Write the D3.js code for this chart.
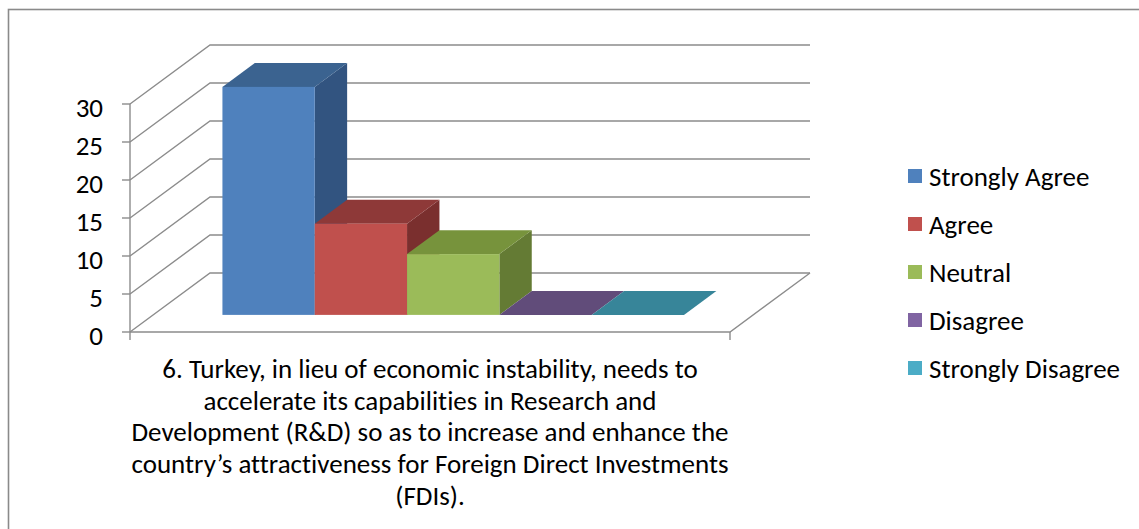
<!DOCTYPE html>
<html>
<head>
<meta charset="utf-8">
<script src="https://cdn.jsdelivr.net/npm/d3@7"></script>
<style>
  html, body { margin: 0; padding: 0; background: #fff; }
  svg { display: block; }
  text { font-family: Carlito, Calibri, Lato, "Noto Sans", sans-serif; fill: #000; font-variant-ligatures: none; }
</style>
</head>
<body>
<svg id="chart" width="1139" height="529"></svg>
<script>
// Survey responses for statement 6
const series = ["Strongly Agree", "Agree", "Neutral", "Disagree", "Strongly Disagree"];
const values = [30, 12, 8, 0, 0];
const frontColors = ["#4F81BD", "#C0504D", "#9BBB59", "#8064A2", "#4BACC6"];
const topColors   = ["#3B6390", "#8E3938", "#77933C", "#614C7A", "#378599"];
const sideColors  = ["#325480", "#7A2F2E", "#647B34", "#523F68", "#2E7283"];
const yTicks = [0, 5, 10, 15, 20, 25, 30];
const categoryLines = [
  "6. Turkey, in lieu of economic instability, needs to",
  "accelerate its capabilities in Research and",
  "Development (R&D) so as to increase and enhance the",
  "country\u2019s attractiveness for Foreign Direct Investments",
  "(FDIs)."
];

const svg = d3.select("#chart");
const fontSize = "27px";

// Plot box (front plane) and oblique depth vector
const plotLeft = 130, plotRight = 730, plotBottom = 332, plotTop = 104;
const depth = { dx: 80, dy: -59 };
const barDepth = [0.29, 0.695];

const y = d3.scaleLinear().domain([0, 30]).range([plotBottom, plotTop]);
const x = d3.scaleBand().domain(series).range([plotLeft, plotRight]).paddingInner(0).paddingOuter(0.75);

const proj = (px, py, d) => [px + d * depth.dx, py + d * depth.dy];
const pts = arr => arr.map(p => p.join(",")).join(" ");

// Chart frame
svg.append("rect")
  .attr("x", 8.5).attr("y", 9.5).attr("width", 1200).attr("height", 600)
  .attr("fill", "none").attr("stroke", "#8a8a8a").attr("stroke-width", 1.6);

const grid = svg.append("g").attr("fill", "none").attr("stroke", "#8c8c8c").attr("stroke-width", 1.4);

// Side wall + back wall gridlines
yTicks.forEach(t => {
  const f = [plotLeft, y(t)];
  const b = proj(plotLeft, y(t), 1);
  const br = proj(plotRight, y(t), 1);
  grid.append("polyline").attr("points", pts([f, b, br]));
});

// Floor front and right edges
grid.append("polyline").attr("points", pts([[plotLeft, y(0)], [plotRight, y(0)], proj(plotRight, y(0), 1)]));

// Vertical axis and ticks
const axisG = svg.append("g").attr("stroke", "#8c8c8c").attr("stroke-width", 1.4);
axisG.append("line").attr("x1", plotLeft).attr("x2", plotLeft).attr("y1", y(30)).attr("y2", y(0) + 8);
axisG.append("line").attr("x1", plotRight).attr("x2", plotRight).attr("y1", y(0)).attr("y2", y(0) + 8);
yTicks.forEach(t => {
  axisG.append("line").attr("x1", plotLeft - 8).attr("x2", plotLeft).attr("y1", y(t)).attr("y2", y(t));
});

svg.append("g").selectAll("text").data(yTicks).join("text")
  .attr("x", 103).attr("y", d => y(d) + 3)
  .attr("text-anchor", "end").attr("dominant-baseline", "central")
  .style("font-size", fontSize)
  .text(d => d);

// 3D bars, painted left to right
const bars = svg.append("g");
series.forEach((s, i) => {
  const x0 = x(s), x1 = x(s) + x.bandwidth();
  const yT = y(values[i]), yB = y(0);
  const d0 = barDepth[0], d1 = barDepth[1];
  // right side face
  bars.append("polygon")
    .attr("points", pts([proj(x1, yT, d0), proj(x1, yT, d1), proj(x1, yB, d1), proj(x1, yB, d0)]))
    .attr("fill", sideColors[i]);
  // top face
  bars.append("polygon")
    .attr("points", pts([proj(x0, yT, d0), proj(x0, yT, d1), proj(x1, yT, d1), proj(x1, yT, d0)]))
    .attr("fill", topColors[i]);
  // front face
  const f0 = proj(x0, yT, d0), f1 = proj(x1, yB, d0);
  bars.append("rect")
    .attr("x", f0[0]).attr("y", f0[1])
    .attr("width", f1[0] - f0[0]).attr("height", f1[1] - f0[1])
    .attr("fill", frontColors[i]);
});

// Category label
svg.append("g").selectAll("text").data(categoryLines).join("text")
  .attr("x", 430).attr("y", (d, i) => 378 + i * 31.7)
  .attr("text-anchor", "middle")
  .style("font-size", fontSize)
  .text(d => d);

// Legend
const legend = svg.append("g");
series.forEach((s, i) => {
  const cy = 176 + i * 48;
  legend.append("rect").attr("x", 908).attr("y", cy - 7).attr("width", 14).attr("height", 14)
    .attr("fill", frontColors[i]);
  legend.append("text").attr("x", 929).attr("y", cy)
    .attr("dominant-baseline", "central")
    .style("font-size", fontSize)
    .text(s);
});
</script>
</body>
</html>
